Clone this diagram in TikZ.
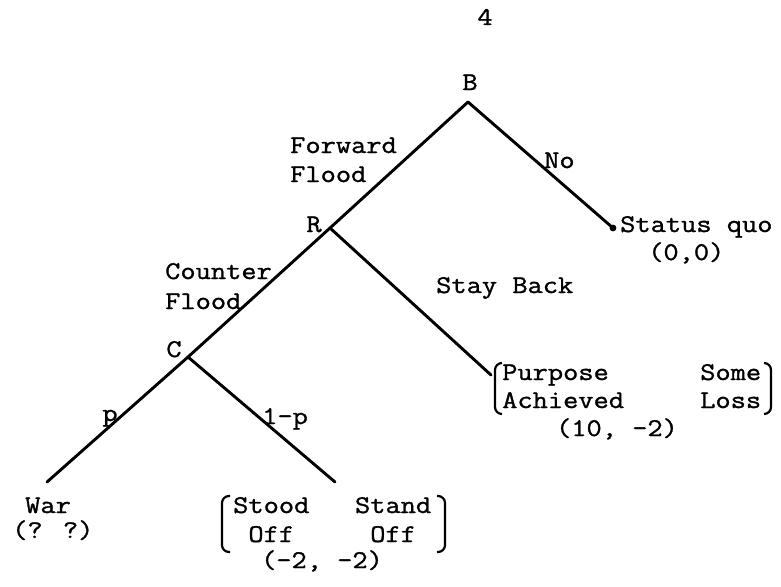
\documentclass[tikz,border=0pt]{standalone}
\usepackage{fontspec}
\newfontfamily\typewr[FakeStretch=1.16,FakeBold=1.2]{Latin Modern Mono}
\begin{document}
\begin{tikzpicture}[x=1pt,y=-1pt,
  txt/.style={inner sep=0pt,font=\typewr\fontsize{25.5}{26}\selectfont},
  branch/.style={line width=2.9pt,line cap=round},
  brack/.style={line width=2.2pt,rounded corners=7pt}]
\useasboundingbox (0,0) rectangle (781,586);
% vertices
\coordinate (B) at (468,102);
\coordinate (R) at (330,228);
\coordinate (C) at (188,357);
\coordinate (SQ) at (613,228);
\coordinate (PA) at (491,375);
\coordinate (W) at (47,482);
\coordinate (SO) at (335,482);
% branches
\draw[branch] (B) -- (SQ);
\fill (SQ) circle (3.4pt);
\draw[branch] (B) -- (R);
\draw[branch] (R) -- (C);
\draw[branch] (R) -- (PA);
\draw[branch] (C) -- (W);
\draw[branch] (C) -- (SO);
% labels
\node[txt,anchor=base] (four) at (485,25) {4};
\node[txt,anchor=base] (lB) at (470,90) {B};
\node[txt,anchor=base] (lR) at (314,232) {R};
\node[txt,anchor=base] (lC) at (174,357) {C};
\node[txt,anchor=base west] (no) at (544,168) {No};
\node[txt,anchor=base west] (sq) at (620,232) {Status quo};
\node[txt,anchor=base west] (sqp) at (648,260) {(0,0)};
\node[txt,anchor=base west] (ff1) at (290,153) {Forward};
\node[txt,anchor=base west] (ff2) at (290,182) {Flood};
\node[txt,anchor=base west] (cf1) at (165,279) {Counter};
\node[txt,anchor=base west] (cf2) at (165,309) {Flood};
\node[txt,anchor=base west] (sb) at (436,293) {Stay Back};
\node[txt,anchor=base] (lp) at (110,421) {p};
\node[txt,anchor=base west] (l1p) at (262,424) {1-p};
\node[txt,anchor=base west] (war) at (25,513) {War};
\node[txt,anchor=base west] (warp) at (12,538) {(? ?)};
% Stood off block
\node[txt,anchor=base west] (so1) at (233,513) {Stood\hphantom{xxx}Stand};
\node[txt,anchor=base west] (so2) at (233,542) {\hphantom{x}Off\hphantom{xxxxx}Off};
\node[txt,anchor=base] (sop) at (322,568) {(-2, -2)};
\draw[brack] (230,496) -- (222,496) -- (222,552) -- (230,552);
\draw[brack] (437,496) -- (445,496) -- (445,552) -- (437,552);
% Purpose block
\node[txt,anchor=base west] (pa1) at (502,380) {Purpose\hphantom{xxxxxx}Some};
\node[txt,anchor=base west] (pa2) at (502,408) {Achieved\hphantom{xxxxx}Loss};
\node[txt,anchor=base] (pap) at (617,436) {(10, -2)};
\draw[brack] (502,363) -- (495,363) -- (495,414) -- (502,414);
\draw[brack] (764,363) -- (771,363) -- (771,414) -- (764,414);
\end{tikzpicture}
\end{document}
